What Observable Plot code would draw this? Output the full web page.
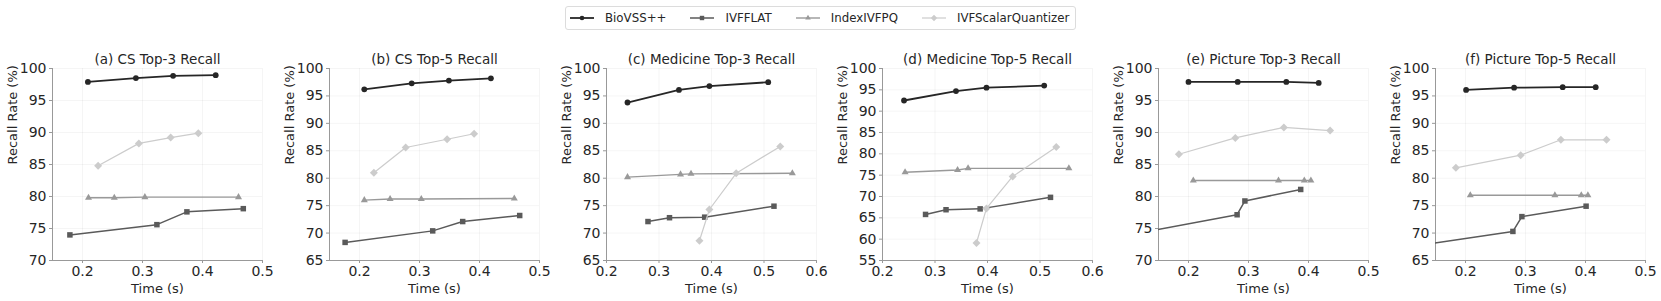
<!DOCTYPE html>
<html>
<head>
<meta charset="utf-8">
<script src="https://cdn.jsdelivr.net/npm/d3@7"></script>
<script src="https://cdn.jsdelivr.net/npm/@observablehq/plot@0.6"></script>
<style>
  body { margin: 0; background: #fff; font-family: "DejaVu Sans", sans-serif; }
  #root { position: relative; width: 1661px; height: 301px; overflow: hidden; }
  .panel { position: absolute; top: 40px; }
  #legend { position: absolute; left: 565px; top: 6px; height: 24px; box-sizing: border-box;
            border: 1px solid #dcdcdc; border-radius: 3px; display: flex; align-items: center;
            padding: 0 6px 0 4px; font-size: 11.8px; color: #262626; background: #fff; }
  .item { display: flex; align-items: center; margin-right: 24px; }
  .item:last-child { margin-right: 0; }
  .item svg { margin-right: 11px; }
</style>
</head>
<body>
<div id="root">
  <div id="legend"></div>
</div>
<script>
// ---------- data ----------
const panelTitles = [
  "(a) CS Top-3 Recall", "(b) CS Top-5 Recall", "(c) Medicine Top-3 Recall",
  "(d) Medicine Top-5 Recall", "(e) Picture Top-3 Recall", "(f) Picture Top-5 Recall"
];
const xAxisLabel = "Time (s)";
const yAxisLabel = "Recall Rate (%)";
const seriesNames = ["BioVSS++", "IVFFLAT", "IndexIVFPQ", "IVFScalarQuantizer"];

const xTickLabels = [
  [0.2, 0.3, 0.4, 0.5], [0.2, 0.3, 0.4, 0.5], [0.2, 0.3, 0.4, 0.5, 0.6],
  [0.2, 0.3, 0.4, 0.5, 0.6], [0.2, 0.3, 0.4, 0.5], [0.2, 0.3, 0.4, 0.5]
];
const xMin = [0.15, 0.15, 0.2, 0.2, 0.15, 0.15];
const yMin = [70, 65, 65, 55, 70, 65];
const yMax = [100, 100, 100, 100, 100, 100];

const bioTime = [
  [0.209, 0.289, 0.351, 0.422], [0.208, 0.287, 0.349, 0.419], [0.240, 0.338, 0.396, 0.508],
  [0.241, 0.340, 0.398, 0.508], [0.200, 0.282, 0.363, 0.417], [0.201, 0.281, 0.362, 0.417]
];
const bioRecall = [
  [97.9, 98.5, 98.85, 98.95], [96.2, 97.3, 97.8, 98.2], [93.8, 96.1, 96.8, 97.5],
  [92.5, 94.7, 95.5, 96.0], [97.9, 97.9, 97.9, 97.75], [96.1, 96.5, 96.6, 96.6]
];
const flatTime = [
  [0.179, 0.324, 0.374, 0.468], [0.176, 0.322, 0.372, 0.467], [0.279, 0.320, 0.387, 0.519],
  [0.282, 0.321, 0.386, 0.520], [0.100, 0.281, 0.294, 0.387], [0.100, 0.279, 0.294, 0.401]
];
const flatRecall = [
  [74.0, 75.6, 77.6, 78.1], [68.3, 70.4, 72.1, 73.2], [72.1, 72.8, 72.9, 74.9],
  [65.8, 66.9, 67.1, 69.8], [74.0, 77.15, 79.3, 81.1], [67.4, 70.3, 73.0, 74.9]
];
const pqTime = [
  [0.210, 0.253, 0.304, 0.460], [0.208, 0.251, 0.303, 0.458], [0.240, 0.341, 0.361, 0.554],
  [0.243, 0.343, 0.363, 0.555], [0.208, 0.350, 0.393, 0.404], [0.208, 0.349, 0.393, 0.404]
];
const pqRecall = [
  [79.8, 79.8, 79.9, 79.9], [76.0, 76.2, 76.2, 76.3], [80.2, 80.7, 80.8, 80.9],
  [75.7, 76.2, 76.6, 76.6], [82.5, 82.5, 82.5, 82.5], [76.9, 76.9, 76.9, 76.9]
];
const sqTime = [
  [0.226, 0.294, 0.347, 0.393], [0.224, 0.277, 0.346, 0.391], [0.377, 0.396, 0.447, 0.531],
  [0.379, 0.398, 0.448, 0.531], [0.184, 0.278, 0.359, 0.436], [0.184, 0.292, 0.359, 0.435]
];
const sqRecall = [
  [84.8, 88.3, 89.2, 89.9], [81.0, 85.6, 87.1, 88.1], [68.6, 74.3, 80.9, 85.8],
  [59.1, 67.2, 74.7, 81.6], [86.6, 89.15, 90.8, 90.3], [81.9, 84.2, 87.0, 87.0]
];

// ---------- styles ----------
const seriesTimes = [bioTime, flatTime, pqTime, sqTime];
const seriesRecalls = [bioRecall, flatRecall, pqRecall, sqRecall];
const seriesStyle = [
  { color: "#262626", symbol: "circle",   r: 2.9, width: 1.8 },
  { color: "#5a5a5a", symbol: "square",   r: 3.1, width: 1.5 },
  { color: "#999999", symbol: "triangle", r: 2.6, width: 1.4 },
  { color: "#cccccc", symbol: "diamond2", r: 3.6, width: 1.2 }
];

const root = document.getElementById("root");
const panelLefts = [0, 277, 554, 830, 1106, 1383];
const textColor = "#262626";

panelTitles.forEach((title, i) => {
  const marks = [
    Plot.gridY(d3.range(yMin[i], yMax[i] + 0.01, 5), { stroke: "#000", strokeOpacity: 0.04 }),
    Plot.gridX(xTickLabels[i], { stroke: "#000", strokeOpacity: 0.04 }),
    Plot.axisY(d3.range(yMin[i], yMax[i] + 0.01, 5), { tickSize: 3, tickPadding: 3, fontSize: 14, label: null, stroke: "#999", fill: textColor }),
    Plot.axisX(xTickLabels[i], { tickSize: 3, tickPadding: 3, fontSize: 14, label: null, tickFormat: d => d.toFixed(1), stroke: "#999", fill: textColor }),
    Plot.ruleX([xMin[i]], { stroke: "#999", strokeWidth: 1 }),
    Plot.ruleY([yMin[i]], { stroke: "#999", strokeWidth: 1 }),
    Plot.text([title], { frameAnchor: "top", dy: -9, lineAnchor: "middle", fontSize: 13.5, fill: textColor }),
    Plot.text([xAxisLabel], { frameAnchor: "bottom", dy: 28, lineAnchor: "middle", fontSize: 13, fill: textColor }),
    Plot.text([yAxisLabel], { frameAnchor: "left", dx: -40, rotate: -90, lineAnchor: "middle", fontSize: 13, fill: textColor })
  ];
  seriesNames.forEach((name, k) => {
    const st = seriesStyle[k];
    const rows = seriesTimes[k][i].map((t, j) => ({ series: name, t, r: seriesRecalls[k][i][j] }));
    marks.push(Plot.line(rows, { x: "t", y: "r", stroke: st.color, strokeWidth: st.width, clip: true }));
    marks.push(Plot.dot(rows, { x: "t", y: "r", symbol: st.symbol, r: st.r, fill: st.color, stroke: "none", clip: true }));
  });
  const chart = Plot.plot({
    width: 277,
    height: 260,
    marginLeft: 52,
    marginRight: 15,
    marginTop: 28,
    marginBottom: 40,
    style: { fontFamily: "DejaVu Sans, sans-serif", background: "transparent", overflow: "visible" },
    x: { domain: [xMin[i], xTickLabels[i][xTickLabels[i].length - 1]] },
    y: { domain: [yMin[i], yMax[i]] },
    marks
  });
  chart.classList.add("panel");
  chart.style.left = panelLefts[i] + "px";
  root.appendChild(chart);
});

// ---------- legend ----------
const legend = document.getElementById("legend");
seriesNames.forEach((name, k) => {
  const st = seriesStyle[k];
  const item = document.createElement("div");
  item.className = "item";
  const svg = d3.create("svg").attr("width", 24).attr("height", 10);
  svg.append("line").attr("x1", 0).attr("x2", 24).attr("y1", 5).attr("y2", 5)
     .attr("stroke", st.color).attr("stroke-width", st.width);
  svg.append("path").attr("transform", "translate(12,5)")
     .attr("d", d3.symbol(
        { circle: d3.symbolCircle, square: d3.symbolSquare, triangle: d3.symbolTriangle, diamond2: d3.symbolDiamond2 }[st.symbol],
        Math.PI * (st.r * 0.8) ** 2)())
     .attr("fill", st.color);
  item.appendChild(svg.node());
  const label = document.createElement("span");
  label.textContent = name;
  item.appendChild(label);
  legend.appendChild(item);
});
</script>
</body>
</html>
